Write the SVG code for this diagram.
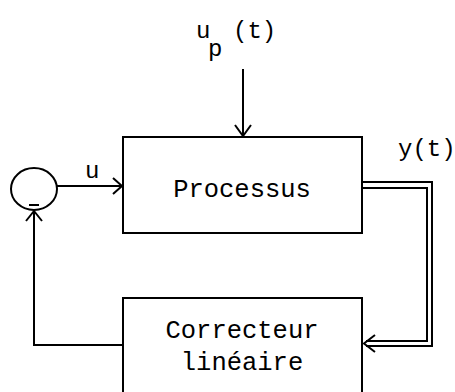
<svg xmlns="http://www.w3.org/2000/svg" width="455" height="392" viewBox="0 0 455 392">
<style>
.box{fill:none;stroke:#000;stroke-width:2}
.ln{fill:none;stroke:#000;stroke-width:2}
.ah{fill:none;stroke:#000;stroke-width:2;stroke-linejoin:miter}
.t{font-family:"Liberation Mono","DejaVu Sans Mono",monospace;font-size:24px;fill:#000}
.tb{font-family:"Liberation Mono","DejaVu Sans Mono",monospace;font-size:25.5px;fill:#000}
</style>
<rect width="455" height="392" fill="#fff"/>
<g id="processus">
<rect class="box" x="123" y="137" width="239" height="96"/>
<text class="tb" x="242" y="197" text-anchor="middle">Processus</text>
</g>
<g id="correcteur">
<path class="box" d="M123,400 V298 H362 V400"/>
<text class="tb" x="242" y="338" text-anchor="middle">Correcteur</text>
<text class="tb" x="242" y="370" text-anchor="middle">linéaire</text>
</g>
<g id="comparateur">
<ellipse class="box" cx="34" cy="189" rx="23" ry="21"/>
<line class="ln" x1="29" y1="205" x2="39" y2="205"/>
</g>
<g id="connectors">
<line class="ln" x1="57" y1="186" x2="122" y2="186"/>
<path class="ah" d="M113,178 L122,186 L113,194"/>
<line class="ln" x1="243" y1="69" x2="243" y2="136"/>
<path class="ah" d="M235,125 L243,136 L251,125"/>
<path class="ln" d="M123,345 H34 V211"/>
<path class="ah" d="M26,221 L34,211 L42,221"/>
<path class="ln" d="M362,182 H432 V346 H366"/>
<path class="ln" d="M362,188 H427 V341 H366"/>
<path class="ah" d="M375,335 L364,343.5 L375,352"/>
</g>
<g id="labels">
<text class="t" x="85" y="178">u</text>
<text class="t" x="196" y="38">u</text>
<text class="t" x="208" y="56">p</text>
<text class="t" x="233" y="38">(t)</text>
<text class="t" x="398" y="156">y(t)</text>
</g>
</svg>
